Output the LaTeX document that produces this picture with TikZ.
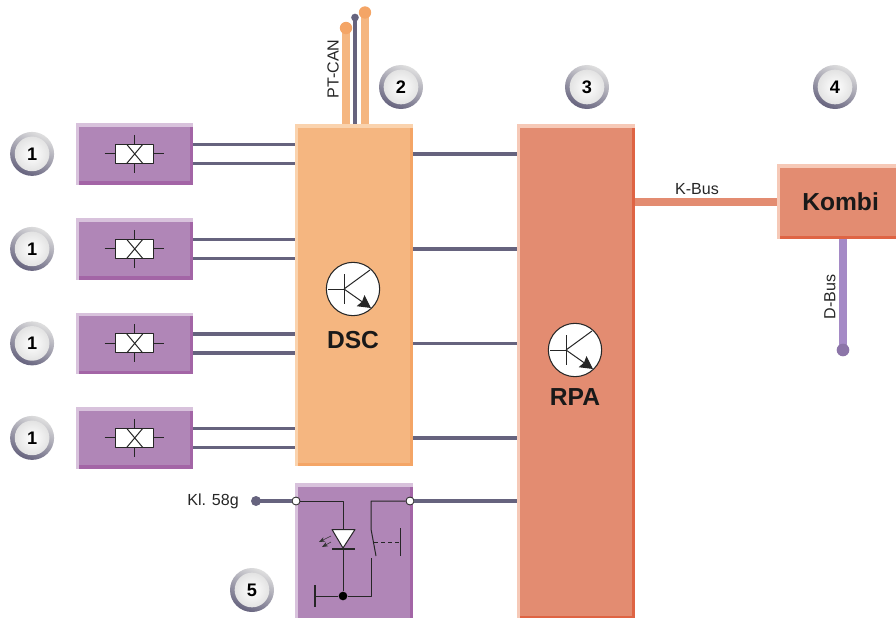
\documentclass[tikz,border=0pt]{standalone}
\usepackage{fontspec}
\setmainfont{Liberation Sans}
\usepackage{tikz}
\usetikzlibrary{arrows.meta,calc,positioning}
\definecolor{wirecol}{HTML}{66637E}
\definecolor{violet1}{HTML}{B086B7}
\definecolor{violet2}{HTML}{D8C2DC}
\definecolor{violet3}{HTML}{A365A6}
\definecolor{orange1}{HTML}{F5B680}
\definecolor{orange2}{HTML}{FAD3AE}
\definecolor{orange3}{HTML}{F4A566}
\definecolor{red1}{HTML}{E38C71}
\definecolor{red2}{HTML}{F6C9B7}
\definecolor{red3}{HTML}{DF6444}
\definecolor{dbus}{HTML}{A58AC6}
\tikzset{
  block/.style n args={3}{anchor=north west,inner sep=0pt,fill=#1,
    path picture={
      \fill[#2] (path picture bounding box.north west) rectangle ([yshift=-0.1cm]path picture bounding box.north east);
      \fill[#2] (path picture bounding box.north west) rectangle ([xshift=0.09cm]path picture bounding box.south west);
      \fill[#3] ([yshift=0.1cm,xshift=0.09cm]path picture bounding box.south west) rectangle (path picture bounding box.south east);
      \fill[#3] ([xshift=-0.1cm,yshift=-0.1cm]path picture bounding box.north east) rectangle (path picture bounding box.south east);
    }},
  sensorbox/.style={block={violet1}{violet2}{violet3},minimum width=3.51cm,minimum height=1.84cm},
  badge/.style={circle,inner sep=0pt,minimum size=1.32cm,font=\fontsize{15.5}{15.5}\selectfont\bfseries,
    top color=gray!25,bottom color=wirecol,shading angle=-25,
    path picture={\shade[inner color=white,outer color=gray!28] (path picture bounding box.center) circle (0.52cm);}},
  wire/.style={wirecol,line width=3.2pt},
  sym/.style={line width=0.85pt,black!85},
  buslabel/.style={font=\fontsize{13.7}{13.7}\selectfont,black!85,inner sep=0pt},
  title/.style={font=\fontsize{21}{21}\selectfont\bfseries,black!90,inner sep=0pt},
  trans/.style={circle,draw=black!85,line width=0.9pt,fill=white,minimum size=1.6cm,inner sep=0pt},
  contact/.style={circle,draw=black!85,line width=0.7pt,fill=white,minimum size=0.24cm,inner sep=0pt},
  enddot/.style={circle,fill=#1,minimum size=0.36cm,inner sep=0pt}
}
\newcommand{\relaysym}[1]{%
  \draw[sym] ($(#1)+(-30,0)$) -- ($(#1)+(29,0)$);
  \draw[sym] ($(#1)+(0,-19)$) -- ($(#1)+(0,19)$);
  \draw[sym,fill=white] ($(#1)+(-19,-9.5)$) rectangle ($(#1)+(19,9.5)$);
  \draw[sym] ($(#1)+(-8,-9.5)$) -- ($(#1)+(8,9.5)$) ($(#1)+(-8,9.5)$) -- ($(#1)+(8,-9.5)$);
}
\newcommand{\transsym}[1]{%
  \draw[sym] ($(#1)+(-25,0)$) -- ($(#1)+(-9,0)$);
  \draw[sym] ($(#1)+(-9,-15)$) -- ($(#1)+(-9,15)$);
  \draw[sym] ($(#1)+(-9,0)$) -- ($(#1)+(17,-19)$);
  \draw[sym,-{Stealth[length=0.38cm,width=0.4cm,inset=0.05cm]}] ($(#1)+(-9,0)$) -- ($(#1)+(18,19)$);
}
\begin{document}
\begin{tikzpicture}[x=0.03cm,y=-0.03cm,>=Stealth,line join=round]
\useasboundingbox (0,0) rectangle (896,618);
% --- bus stubs above DSC
\coordinate (can1) at (346,28);
\coordinate (can2) at (355,17.5);
\coordinate (can3) at (365,12.5);
\draw[orange1,line width=6.6pt] (can1) -- (346,126);
\draw[orange1,line width=6.6pt] (can3) -- (365,126);
\draw[wirecol,line width=3.8pt] (can2) -- (355,126);
\node[enddot=orange3,minimum size=0.37cm] (can1dot) at (can1) {};
\node[enddot=orange3,minimum size=0.37cm] (can3dot) at (can3) {};
\node[enddot=wirecol,minimum size=0.23cm] (can2dot) at (can2) {};
% --- blocks
\node[block={orange1}{orange2}{orange3},minimum width=3.54cm,minimum height=10.26cm] (dsc) at (295,124) {};
\node[block={red1}{red2}{red3},minimum width=3.54cm,minimum height=14.85cm] (rpa) at (517,124) {};
\node[block={red1}{red2}{red3},minimum width=3.8cm,minimum height=2.25cm] (kombi) at (777,164) {};
\node[block={violet1}{violet2}{violet3},minimum width=3.54cm,minimum height=4.2cm] (lamp) at (295,483) {};
\node[sensorbox] (sens1) at (76,123) {};
\node[sensorbox] (sens2) at (76,218) {};
\node[sensorbox] (sens3) at (76,312.5) {};
\node[sensorbox] (sens4) at (76,407) {};
% --- sensors, wires
\foreach \i in {1,2,3,4}{
  \draw[wire] ([yshift=0.285cm]sens\i.east) -- ([yshift=0.285cm]sens\i.east -| dsc.west);
  \draw[wire] ([yshift=-0.285cm]sens\i.east) -- ([yshift=-0.285cm]sens\i.east -| dsc.west);
  \draw[wire] (sens\i.east -| dsc.east) -- (sens\i.east -| rpa.west);
  \relaysym{sens\i.center}
  \node[badge,left=0.65cm of sens\i.west] (bad\i) {1};
}
% --- transistors
\node[trans] (tdsc) at (353,289) {};
\node[trans] (trpa) at (575,350) {};
\transsym{tdsc}
\transsym{trpa}
\node[title] (dsclab) at (353,340) {DSC};
\node[title] (rpalab) at (575,397) {RPA};
\node[title] (kombilab) at (kombi.center) {Kombi};
% --- K-Bus, D-Bus
\draw[red1,line width=6.8pt] (kombi.west) -- (kombi.west -| rpa.east);
\coordinate (dend) at (843,350);
\draw[dbus,line width=6.6pt] (dend) -- (dend |- kombi.south);
\node[enddot=dbus!85!black,minimum size=0.38cm] (ddot) at (dend) {};
\node[buslabel] (kbus) at (697,189) {K-Bus};
\node[buslabel,rotate=90] (dbuslab) at (830,297) {D-Bus};
\node[buslabel,rotate=90] (ptcan) at (333,69) {PT-CAN};
% --- badges
\node[badge] (bad2) at (401,87) {2};
\node[badge] (bad3) at (587,87) {3};
\node[badge] (bad4) at (835,87) {4};
\node[badge] (bad5) at (252,590) {5};
% --- brake light switch
\coordinate (kl) at (256,501);
\node[contact] (cin) at (296,501) {};
\node[contact] (cout) at (410,501) {};
\node[circle,fill=black,minimum size=0.26cm,inner sep=0pt] (gnd) at (343,596) {};
\draw[wire] (kl) -- (cin);
\draw[wire] (cout) -- (cout -| rpa.west);
\node[enddot=wirecol,minimum size=0.3cm] (kldot) at (kl) {};
\node[buslabel,anchor=east] (kllab) at (239,501) {Kl. 58g};
\draw[sym] (cin) -- (343,501) -- (gnd);
\draw[sym,fill=white] (332,529.5) -- (355,529.5) -- (343,548) -- cycle;
\draw[line width=1.5pt,black!85] (332,549) -- (355,549);
\draw[sym] (gnd) -- (315,596);
\draw[line width=1.2pt,black!85] (315,585) -- (315,607);
\draw[sym] (gnd) -- (371,596) -- (371,558);
\draw[sym] (376,556) -- (371,529) -- (371,501) -- (cout);
\draw[sym,dashed] (374,542) -- (399,542);
\draw[sym] (400,528) -- (400,556);
\draw[black!80,line width=0.5pt,-{Stealth[length=0.18cm,width=0.14cm]}] (331,536) -- (319,542);
\draw[black!80,line width=0.5pt,-{Stealth[length=0.18cm,width=0.14cm]}] (331,542) -- (322,547);
\end{tikzpicture}
\end{document}
